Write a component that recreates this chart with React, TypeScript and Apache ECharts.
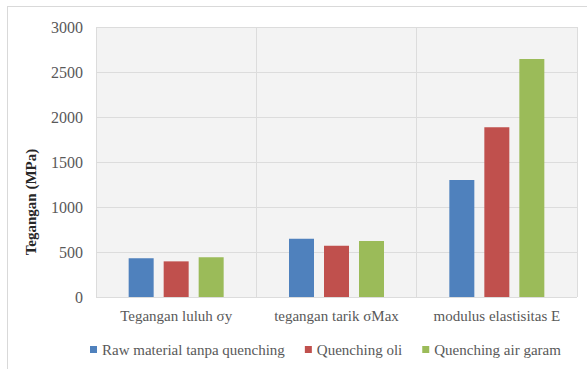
import React, { useEffect, useRef } from "react";
import * as echarts from "echarts";

const categories = ["Tegangan luluh σy", "tegangan tarik σMax", "modulus elastisitas E"];
const seriesNames = ["Raw material tanpa quenching", "Quenching oli", "Quenching air garam"];
const rawValues = [430, 648, 1300];
const oliValues = [396, 570, 1885];
const airGaramValues = [441, 622, 2644];
const colors = ["#4f81bd", "#c0504d", "#9bbb59"];
const yAxisTitle = "Tegangan (MPa)";

const FONT = "Liberation Serif";

export default function App() {
  const ref = useRef<HTMLDivElement>(null);
  useEffect(() => {
    if (!ref.current) return;
    const chart = echarts.init(ref.current, undefined, { renderer: "svg" });
    const data = [rawValues, oliValues, airGaramValues];
    chart.setOption({
      animation: false,
      backgroundColor: "#ffffff",
      graphic: [
        {
          type: "line",
          shape: { x1: 7, y1: 6.5, x2: 587, y2: 6.5 },
          style: { stroke: "#d9d9d9", lineWidth: 1 },
        },
        {
          type: "line",
          shape: { x1: 7.5, y1: 6, x2: 7.5, y2: 369 },
          style: { stroke: "#d9d9d9", lineWidth: 1 },
        },
        {
          type: "text",
          x: 31,
          y: 202,
          rotation: Math.PI / 2,
          style: {
            text: yAxisTitle,
            fontFamily: FONT,
            fontSize: 15,
            fontWeight: "bold",
            fill: "#262626",
            align: "center",
            verticalAlign: "middle",
          },
        },
      ],
      grid: {
        left: 96,
        right: 10,
        top: 27,
        bottom: 72,
        show: true,
        backgroundColor: "#f3f3f3",
        borderWidth: 0,
      },
      legend: {
        data: seriesNames,
        top: 337,
        left: 85,
        itemWidth: 7,
        itemHeight: 7,
        itemGap: 20,
        icon: "rect",
        textStyle: { fontFamily: FONT, fontSize: 15, color: "#595959" },
      },
      xAxis: {
        type: "category",
        data: categories,
        axisTick: { show: false },
        axisLine: { show: false },
        axisLabel: { fontFamily: FONT, fontSize: 15, color: "#595959", margin: 11, interval: 0 },
        splitLine: { show: true, lineStyle: { color: "#dcdcdc", width: 1 } },
      },
      yAxis: {
        type: "value",
        min: 0,
        max: 3000,
        interval: 500,
        axisLine: { show: false },
        axisTick: { show: false },
        axisLabel: {
          fontFamily: FONT,
          fontSize: 16,
          color: "#595959",
          margin: 13,
          formatter: (v: number) => String(v),
        },
        splitLine: { show: true, lineStyle: { color: "#dcdcdc", width: 1 } },
      },
      series: seriesNames.map((name, i) => ({
        name,
        type: "bar",
        data: data[i],
        barWidth: 25,
        barGap: "40%",
        itemStyle: { color: colors[i] },
      })),
    });
    return () => chart.dispose();
  }, []);
  return (
    <div
      ref={ref}
      style={{ position: "fixed", left: 0, top: 0, width: 587, height: 369 }}
    />
  );
}
